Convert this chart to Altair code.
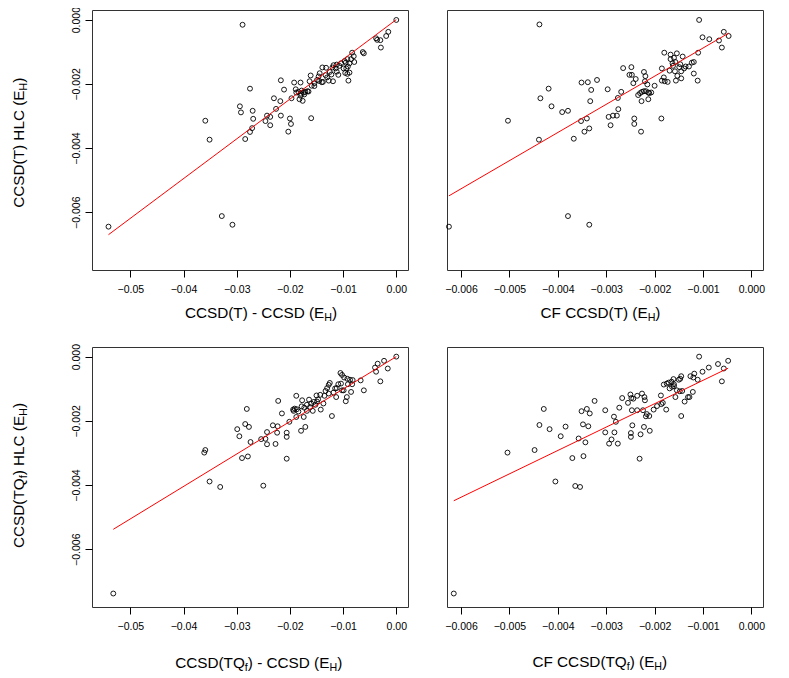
import altair as alt
import pandas as pd

# ---------------- data ----------------
tl_x = [-0.0541,-0.0328,-0.0308,-0.0359,-0.0351,-0.0289,-0.0275,-0.0294,-0.0292,-0.0270,
        -0.0269,-0.0271,-0.0275,-0.0284,-0.0246,-0.0243,-0.0237,-0.0237,-0.0226,-0.0230,
        -0.0218,-0.0217,-0.0217,-0.0211,-0.0203,-0.0200,-0.0198,-0.0197,-0.0192,-0.0180,
        -0.0189,-0.0188,-0.0182,-0.0176,-0.0180,-0.0160,-0.0184,-0.0178,-0.0174,-0.0171,
        -0.0167,-0.0165,-0.0173,-0.0179,-0.0161,-0.0163,-0.0159,-0.0154,-0.0149,-0.0146,
        -0.0144,-0.0145,-0.0138,-0.0139,-0.0132,-0.0133,-0.0130,-0.0125,-0.0122,-0.0118,
        -0.0120,-0.0114,-0.0112,-0.0109,-0.0119,-0.0104,-0.0107,-0.0099,-0.0097,-0.0092,
        -0.0095,-0.0091,-0.0094,-0.0088,-0.0090,-0.0085,-0.0079,-0.0088,-0.0083,-0.0080,
        -0.0063,-0.0061,-0.0038,-0.0036,-0.0030,-0.0029,-0.0019,-0.0015,0.0000,-0.0092,
        -0.0096,-0.0112,-0.0140,-0.0127,-0.0154]
tl_y = [-0.00645,-0.00612,-0.00639,-0.00315,-0.00374,-0.00016,-0.00215,-0.00270,-0.00289,-0.00284,
        -0.00309,-0.00338,-0.00350,-0.00372,-0.00316,-0.00299,-0.00303,-0.00329,-0.00278,-0.00245,
        -0.00254,-0.00189,-0.00299,-0.00218,-0.00349,-0.00308,-0.00325,-0.00245,-0.00196,-0.00196,
        -0.00217,-0.00227,-0.00248,-0.00253,-0.00237,-0.00307,-0.00225,-0.00221,-0.00227,-0.00225,
        -0.00223,-0.00224,-0.00233,-0.00231,-0.00174,-0.00192,-0.00206,-0.00198,-0.00188,-0.00177,
        -0.00167,-0.00191,-0.00194,-0.00149,-0.00150,-0.00173,-0.00180,-0.00163,-0.00171,-0.00142,
        -0.00149,-0.00152,-0.00162,-0.00172,-0.00192,-0.00136,-0.00144,-0.00152,-0.00129,-0.00123,
        -0.00134,-0.00146,-0.00152,-0.00165,-0.00190,-0.00123,-0.00132,-0.00136,-0.00103,-0.00114,
        -0.00101,-0.00105,-0.00058,-0.00063,-0.00064,-0.00087,-0.00051,-0.00038,-0.00001,-0.00169,
        -0.00166,-0.00140,-0.00195,-0.00190,-0.00207]

tr_x = [-0.00625,-0.00379,-0.00335,-0.00438,-0.00503,-0.00439,-0.00436,-0.00419,-0.00413,-0.00391,
        -0.00379,-0.00351,-0.00338,-0.00331,-0.00333,-0.00340,-0.00352,-0.00335,-0.00345,-0.00367,
        -0.00319,-0.00297,-0.00295,-0.00286,-0.00278,-0.00291,-0.00275,-0.00276,-0.00269,-0.00265,
        -0.00248,-0.00252,-0.00247,-0.00239,-0.00244,-0.00242,-0.00242,-0.00228,-0.00186,-0.00222,
        -0.00219,-0.00220,-0.00215,-0.00200,-0.00227,-0.00213,-0.00234,-0.00230,-0.00226,-0.00222,
        -0.00218,-0.00213,-0.00211,-0.00207,-0.00185,-0.00181,-0.00185,-0.00179,-0.00173,-0.00180,
        -0.00167,-0.00154,-0.00142,-0.00167,-0.00160,-0.00163,-0.00157,-0.00169,-0.00158,-0.00147,
        -0.00136,-0.00129,-0.00139,-0.00145,-0.00153,-0.00156,-0.00145,-0.00119,-0.00123,-0.00119,
        -0.00110,-0.00111,-0.00108,-0.00101,-0.00087,-0.00067,-0.00057,-0.00047,-0.00061,-0.00149,
        -0.00162]
tr_y = [-0.00645,-0.00612,-0.00639,-0.00015,-0.00315,-0.00374,-0.00245,-0.00215,-0.00270,-0.00288,
        -0.00284,-0.00196,-0.00195,-0.00219,-0.00254,-0.00308,-0.00316,-0.00339,-0.00349,-0.00371,
        -0.00188,-0.00217,-0.00303,-0.00299,-0.00299,-0.00329,-0.00279,-0.00244,-0.00225,-0.00151,
        -0.00148,-0.00172,-0.00172,-0.00185,-0.00198,-0.00308,-0.00325,-0.00349,-0.00308,-0.00163,
        -0.00176,-0.00192,-0.00202,-0.00206,-0.00254,-0.00248,-0.00235,-0.00229,-0.00225,-0.00223,
        -0.00223,-0.00227,-0.00229,-0.00227,-0.00152,-0.00180,-0.00190,-0.00192,-0.00194,-0.00103,
        -0.00109,-0.00105,-0.00115,-0.00123,-0.00119,-0.00136,-0.00132,-0.00159,-0.00161,-0.00139,
        -0.00146,-0.00146,-0.00152,-0.00161,-0.00175,-0.00190,-0.00183,-0.00132,-0.00134,-0.00168,
        -0.00103,-0.00190,-0.00001,-0.00055,-0.00061,-0.00065,-0.00038,-0.00051,-0.00087,-0.00148,
        -0.00144]

bl_x = [-0.0532,-0.0361,-0.0359,-0.0351,-0.0331,-0.0250,-0.0299,-0.0295,-0.0281,-0.0284,
        -0.0277,-0.0274,-0.0290,-0.0279,-0.0254,-0.0246,-0.0243,-0.0243,-0.0232,-0.0227,
        -0.0224,-0.0223,-0.0222,-0.0215,-0.0206,-0.0206,-0.0206,-0.0201,-0.0194,-0.0193,
        -0.0191,-0.0188,-0.0187,-0.0188,-0.0179,-0.0171,-0.0174,-0.0177,-0.0178,-0.0184,
        -0.0164,-0.0155,-0.0157,-0.0150,-0.0143,-0.0142,-0.0137,-0.0130,-0.0127,-0.0125,
        -0.0115,-0.0112,-0.0121,-0.0113,-0.0105,-0.0102,-0.0098,-0.0092,-0.0087,-0.0082,
        -0.0083,-0.0085,-0.0093,-0.0095,-0.0102,-0.0067,-0.0061,-0.0040,-0.0035,-0.0038,
        -0.0023,-0.0016,-0.0030,0.0000,-0.0168,-0.0162,-0.0152,-0.0147,-0.0168,-0.0160,
        -0.0133,-0.0135,-0.0127,-0.0118,-0.0099,-0.0091,-0.0109,-0.0104,-0.0149,-0.0173]
bl_y = [-0.00738,-0.00299,-0.00291,-0.00389,-0.00406,-0.00402,-0.00226,-0.00248,-0.00163,-0.00210,
        -0.00219,-0.00266,-0.00316,-0.00311,-0.00257,-0.00256,-0.00235,-0.00273,-0.00214,-0.00272,
        -0.00237,-0.00217,-0.00138,-0.00177,-0.00318,-0.00237,-0.00250,-0.00203,-0.00165,-0.00169,
        -0.00162,-0.00122,-0.00164,-0.00188,-0.00231,-0.00219,-0.00188,-0.00136,-0.00155,-0.00171,
        -0.00134,-0.00141,-0.00169,-0.00121,-0.00119,-0.00165,-0.00146,-0.00098,-0.00088,-0.00082,
        -0.00099,-0.00098,-0.00185,-0.00126,-0.00051,-0.00057,-0.00065,-0.00069,-0.00072,-0.00073,
        -0.00086,-0.00110,-0.00126,-0.00139,-0.00105,-0.00074,-0.00105,-0.00034,-0.00022,-0.00047,
        -0.00013,-0.00037,-0.00077,0.00000,-0.00150,-0.00157,-0.00150,-0.00133,-0.00169,-0.00146,
        -0.00107,-0.00122,-0.00115,-0.00112,-0.00105,-0.00086,-0.00086,-0.00084,-0.00140,-0.00159]

br_x = [-0.00615,-0.00504,-0.00448,-0.00405,-0.00364,-0.00354,-0.00429,-0.00438,-0.00417,-0.00394,
        -0.00384,-0.00370,-0.00347,-0.00357,-0.00343,-0.00348,-0.00337,-0.00351,-0.00340,-0.00334,
        -0.00324,-0.00302,-0.00302,-0.00294,-0.00289,-0.00283,-0.00276,-0.00280,-0.00273,-0.00267,
        -0.00255,-0.00250,-0.00248,-0.00244,-0.00247,-0.00236,-0.00236,-0.00249,-0.00249,-0.00229,
        -0.00231,-0.00222,-0.00210,-0.00226,-0.00221,-0.00220,-0.00224,-0.00216,-0.00218,-0.00211,
        -0.00202,-0.00195,-0.00187,-0.00183,-0.00186,-0.00176,-0.00181,-0.00175,-0.00171,-0.00165,
        -0.00161,-0.00164,-0.00169,-0.00160,-0.00157,-0.00154,-0.00150,-0.00147,-0.00145,-0.00143,
        -0.00148,-0.00145,-0.00138,-0.00131,-0.00128,-0.00126,-0.00120,-0.00118,-0.00111,-0.00121,
        -0.00108,-0.00101,-0.00088,-0.00069,-0.00057,-0.00048,-0.00061,-0.00246,-0.00284,-0.00160]
br_y = [-0.00738,-0.00299,-0.00291,-0.00389,-0.00403,-0.00406,-0.00163,-0.00213,-0.00226,-0.00248,
        -0.00218,-0.00316,-0.00310,-0.00255,-0.00267,-0.00211,-0.00217,-0.00170,-0.00163,-0.00177,
        -0.00138,-0.00167,-0.00236,-0.00271,-0.00258,-0.00236,-0.00271,-0.00203,-0.00159,-0.00129,
        -0.00144,-0.00118,-0.00129,-0.00131,-0.00167,-0.00167,-0.00122,-0.00238,-0.00250,-0.00242,
        -0.00318,-0.00219,-0.00231,-0.00115,-0.00126,-0.00136,-0.00167,-0.00179,-0.00186,-0.00185,
        -0.00165,-0.00154,-0.00121,-0.00144,-0.00148,-0.00165,-0.00087,-0.00084,-0.00081,-0.00078,
        -0.00070,-0.00094,-0.00099,-0.00092,-0.00126,-0.00105,-0.00072,-0.00069,-0.00061,-0.00107,
        -0.00108,-0.00185,-0.00140,-0.00126,-0.00126,-0.00061,-0.00065,-0.00053,-0.00072,-0.00110,
        0.00000,-0.00047,-0.00034,-0.00023,-0.00037,-0.00013,-0.00077,-0.00214,-0.00187,-0.00086]

# fitted lines (endpoints; fits pass through the origin)
tl_fit_x = [-0.0541, 0.0]
tl_fit_y = [-0.00670, 0.0]
tr_fit_x = [-0.00625, -0.00047]
tr_fit_y = [-0.00549, -0.00042]
bl_fit_x = [-0.0532, 0.0]
bl_fit_y = [-0.00538, 0.0]
br_fit_x = [-0.00615, -0.00048]
br_fit_y = [-0.00449, -0.00036]

# tick values
x_ticks_diff = [-0.05, -0.04, -0.03, -0.02, -0.01, 0.0]
x_ticks_cf = [-0.006, -0.005, -0.004, -0.003, -0.002, -0.001, 0.0]
y_ticks = [-0.006, -0.004, -0.002, 0.0]

# titles: (text, is_subscript)
t_tl_x = [("CCSD(T) - CCSD (E", 0), ("H", 1), (")", 0)]
t_tr_x = [("CF CCSD(T) (E", 0), ("H", 1), (")", 0)]
t_bl_x = [("CCSD(TQ", 0), ("f", 1), (") - CCSD (E", 0), ("H", 1), (")", 0)]
t_br_x = [("CF CCSD(TQ", 0), ("f", 1), (") (E", 0), ("H", 1), (")", 0)]
t_tl_y = [("CCSD(T) HLC (E", 0), ("H", 1), (")", 0)]
t_bl_y = [("CCSD(TQ", 0), ("f", 1), (") HLC (E", 0), ("H", 1), (")", 0)]

# ---------------- styling ----------------
FONT = "Liberation Sans"
MAIN_FS = 15.3
SUB_FS = 10.7
SUB_SHIFT = 3.0
W, H = 316, 260
Y_DOM = [-0.0078, 0.0003]
ARIAL = {" ": 278, "(": 333, ")": 333, "-": 333, "C": 722, "D": 722, "E": 667,
         "F": 611, "H": 722, "L": 556, "Q": 778, "S": 667, "T": 611, "f": 278}


def text_width(s, fs):
    return sum(ARIAL.get(c, 600) for c in s) / 1000.0 * fs


def title_layers(pieces, cx, cy, rotate=False):
    sizes = [SUB_FS if sub else MAIN_FS for _, sub in pieces]
    widths = [text_width(t, fs) for (t, _), fs in zip(pieces, sizes)]
    total = sum(widths)
    layers = []
    off = 0.0
    for (t, sub), fs, w in zip(pieces, sizes, widths):
        if rotate:
            px = cx + (SUB_SHIFT if sub else 0)
            py = cy + total / 2 - off
            ang = 270
        else:
            px = cx - total / 2 + off
            py = cy + (SUB_SHIFT if sub else 0)
            ang = 0
        layers.append(
            alt.Chart(alt.Data(values=[{"k": 0}]))
            .mark_text(text=t, font=FONT, fontSize=fs, align="left",
                       baseline="alphabetic", angle=ang, color="black")
            .encode(x=alt.value(px), y=alt.value(py))
        )
        off += w
    return layers


def panel(xs, ys, fx, fy, xdom, xticks, xfmt, show_y, xt, xt_pos, yt=None, yt_pos=None):
    df = pd.DataFrame({"x": xs, "y": ys})
    fit_df = pd.DataFrame({"x": fx, "y": fy})
    xenc = alt.X("x:Q", scale=alt.Scale(domain=xdom, nice=False, zero=False),
                 axis=alt.Axis(values=xticks, format=xfmt, title=None,
                               labelFlush=False, labelPadding=7.5,
                               labelOverlap=False))
    if show_y:
        yaxis = alt.Axis(values=y_ticks, format=".3f", title=None, labelAngle=270,
                         labelAlign="center", labelBaseline="alphabetic",
                         labelPadding=5.5, labelFlush=False, labelOverlap=False)
    else:
        yaxis = None
    yenc = alt.Y("y:Q", scale=alt.Scale(domain=Y_DOM, nice=False, zero=False),
                 axis=yaxis)
    pts = alt.Chart(df).mark_point(shape="circle", filled=False, size=24,
                                   strokeWidth=0.9, color="black",
                                   opacity=1).encode(x=xenc, y=yenc)
    fit = alt.Chart(fit_df).mark_line(color="red", strokeWidth=1).encode(
        x="x:Q", y="y:Q")
    layers = [pts, fit] + title_layers(xt, *xt_pos)
    if yt is not None:
        layers += title_layers(yt, *yt_pos, rotate=True)
    return alt.layer(*layers).properties(width=W, height=H)


tl = panel(tl_x, tl_y, tl_fit_x, tl_fit_y, [-0.0572, 0.0022], x_ticks_diff, ".2f", True,
           t_tl_x, (169, 307.7), t_tl_y, (-68.5, 132.7))
tr = panel(tr_x, tr_y, tr_fit_x, tr_fit_y, [-0.00629, 0.00024], x_ticks_cf, ".3f", False,
           t_tr_x, (153.5, 307.7))
bl = panel(bl_x, bl_y, bl_fit_x, bl_fit_y, [-0.0572, 0.0022], x_ticks_diff, ".2f", True,
           t_bl_x, (166.7, 320.5), t_bl_y, (-68, 128.5))
br = panel(br_x, br_y, br_fit_x, br_fit_y, [-0.00629, 0.00024], x_ticks_cf, ".3f", False,
           t_br_x, (152.8, 320))

chart = (
    alt.concat(tl, tr, bl, br, columns=2, spacing={"row": 77, "column": 39},
               bounds="flush")
    .properties(padding={"left": 3, "top": -3, "right": 5, "bottom": 5},
                background="white")
    .configure_view(stroke="#333333", strokeWidth=1)
    .configure_axis(grid=False, domain=False, tickColor="black", tickSize=7,
                    tickWidth=1, labelFont=FONT, labelFontSize=10.5,
                    labelColor="black")
)

chart.save("out.html", embed_options={"renderer": "svg", "actions": False})
